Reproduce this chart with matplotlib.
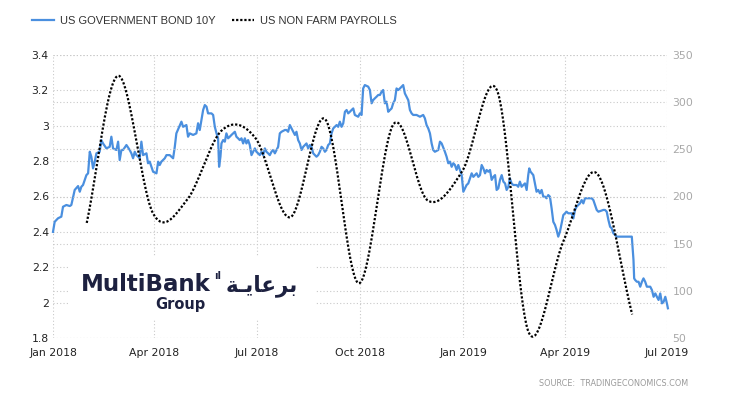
import numpy as np
import pandas as pd
import matplotlib
matplotlib.use("Agg")
import matplotlib.pyplot as plt
import matplotlib.dates as mdates
from matplotlib.lines import Line2D
from matplotlib.patches import Rectangle

# ---------------- data ----------------
# US 10Y yield: days since 2018-01-01 and yield (%)
bond_days = [0, 1.5, 4.5, 7.4, 8.9, 11.9, 14.9, 16.3, 19.3, 22.3, 23.8, 25.2, 26.7, 29.7, 31.2,
             32.7, 34.1, 35.6, 37.1, 38.6, 41.5, 43.0, 44.5, 47.5, 50.4, 51.9, 53.4, 56.4, 57.9,
             59.3, 60.8, 62.3, 65.3, 68.2, 69.7, 71.2, 72.7, 74.2, 77.1, 78.6, 80.1, 83.1, 84.5,
             86.0, 89.0, 92.0, 93.5, 94.9, 96.4, 99.4, 100.9, 103.8, 106.8, 108.3, 109.7, 114.2,
             115.7, 118.6, 120.1, 121.6, 124.6, 127.5, 129.0, 130.5, 133.5, 135.0, 136.5, 137.9,
             140.9, 142.4, 143.9, 145.4, 146.8, 147.7, 148.9, 149.8, 151.3, 152.8, 154.2, 155.7,
             157.2, 158.7, 160.2, 161.7, 163.1, 164.6, 166.1, 167.6, 169.1, 170.6, 172.0, 173.5,
             175.0, 176.5, 178.0, 179.5, 180.9, 182.4, 183.9, 185.4, 186.9, 188.4, 189.8, 191.3,
             192.8, 194.3, 195.8, 197.3, 198.8, 200.2, 201.7, 203.2, 206.2, 207.6, 209.1, 210.6,
             212.1, 213.6, 215.1, 216.5, 218.0, 219.5, 221.0, 222.5, 224.0, 225.4, 226.9, 228.4,
             229.9, 231.4, 232.9, 234.3, 235.8, 237.3, 238.8, 240.3, 241.8, 243.2, 244.7, 246.2,
             247.7, 249.2, 252.2, 253.6, 255.1, 256.6, 258.1, 259.6, 261.1, 262.5, 264.0, 265.5,
             267.0, 268.4, 271.4, 272.9, 274.4, 275.8, 277.3, 280.3, 281.8, 283.3, 284.7, 286.2,
             287.7, 289.2, 290.7, 292.2, 293.6, 295.1, 296.6, 298.1, 299.6, 301.1, 302.5, 304.0,
             305.5, 307.0, 308.5, 310.0, 311.4, 312.9, 314.4, 315.9, 317.4, 318.9, 320.3, 323.3,
             326.3, 329.2, 330.7, 332.2, 333.7, 335.2, 336.7, 338.1, 339.6, 342.6, 344.1, 345.6,
             348.5, 350.0, 351.5, 353.0, 354.5, 356.0, 357.4, 358.9, 360.4, 361.9, 363.4, 364.9,
             366.3, 367.8, 369.3, 370.8, 372.3, 373.8, 375.3, 376.7, 378.2, 379.7, 381.2, 382.7,
             384.2, 385.6, 387.1, 388.6, 390.1, 391.6, 393.1, 394.5, 396.0, 397.5, 399.0, 400.5,
             402.0, 403.4, 404.9, 406.3, 407.8, 409.3, 412.3, 413.7, 415.2, 416.7, 418.2, 419.7,
             421.2, 422.6, 423.5, 424.7, 427.1, 428.6, 430.0, 431.5, 433.0, 434.5, 436.0, 437.5,
             438.9, 440.4, 441.9, 443.4, 444.9, 446.4, 447.8, 449.3, 450.8, 452.3, 453.8, 455.3,
             456.7, 458.2, 459.7, 461.2, 462.7, 464.2, 465.6, 467.1, 468.6, 470.1, 471.6, 473.1,
             477.5, 479.0, 480.5, 482.0, 483.5, 485.0, 489.4, 490.9, 492.4, 493.9, 495.4, 496.8,
             498.3, 499.8, 501.3, 504.3, 514.7, 516.2, 516.8, 517.7, 519.2, 520.7, 522.2, 523.7,
             525.1, 526.6, 528.1, 531.1, 532.6, 534.1, 535.6, 537.0, 538.5, 540.0, 541.5, 543.0,
             544.5, 545.9, 546.8]
bond_values = [2.40, 2.457, 2.477, 2.486, 2.542, 2.552, 2.546, 2.552, 2.637, 2.659, 2.627, 2.655,
               2.665, 2.721, 2.731, 2.853, 2.825, 2.759, 2.797, 2.844, 2.853, 2.919, 2.900, 2.872,
               2.881, 2.938, 2.872, 2.863, 2.910, 2.806, 2.863, 2.863, 2.891, 2.863, 2.844, 2.816,
               2.853, 2.834, 2.816, 2.910, 2.834, 2.844, 2.788, 2.797, 2.740, 2.731, 2.797, 2.778,
               2.797, 2.816, 2.834, 2.834, 2.816, 2.881, 2.957, 3.023, 2.994, 3.004, 2.938, 2.957,
               2.948, 2.957, 3.014, 2.976, 3.089, 3.117, 3.108, 3.070, 3.070, 3.061, 2.994, 2.957,
               2.929, 2.768, 2.825, 2.900, 2.919, 2.910, 2.957, 2.929, 2.938, 2.948, 2.957, 2.966,
               2.938, 2.929, 2.919, 2.929, 2.900, 2.929, 2.900, 2.919, 2.891, 2.834, 2.853, 2.872,
               2.853, 2.844, 2.834, 2.853, 2.834, 2.872, 2.853, 2.844, 2.834, 2.853, 2.863, 2.844,
               2.863, 2.881, 2.957, 2.966, 2.976, 2.976, 2.966, 3.004, 2.985, 2.966, 2.948, 2.966,
               2.919, 2.900, 2.863, 2.881, 2.891, 2.900, 2.872, 2.891, 2.881, 2.844, 2.834, 2.825,
               2.834, 2.853, 2.881, 2.872, 2.853, 2.863, 2.891, 2.900, 2.957, 2.985, 3.004, 2.994,
               3.023, 2.994, 3.014, 3.079, 3.089, 3.070, 3.079, 3.089, 3.098, 3.061, 3.051, 3.070,
               3.061, 3.211, 3.230, 3.221, 3.202, 3.127, 3.145, 3.155, 3.164, 3.174, 3.174, 3.192,
               3.202, 3.127, 3.136, 3.079, 3.089, 3.098, 3.127, 3.145, 3.211, 3.202, 3.211, 3.221,
               3.230, 3.183, 3.164, 3.145, 3.089, 3.070, 3.061, 3.061, 3.051, 3.061, 3.042, 3.004,
               2.985, 2.957, 2.900, 2.863, 2.853, 2.863, 2.910, 2.900, 2.853, 2.825, 2.788, 2.797,
               2.768, 2.788, 2.778, 2.750, 2.778, 2.750, 2.721, 2.627, 2.646, 2.665, 2.674, 2.703,
               2.731, 2.711, 2.721, 2.731, 2.711, 2.721, 2.778, 2.759, 2.731, 2.750, 2.740, 2.750,
               2.694, 2.711, 2.721, 2.637, 2.646, 2.694, 2.721, 2.684, 2.674, 2.637, 2.655, 2.703,
               2.674, 2.665, 2.665, 2.655, 2.684, 2.655, 2.665, 2.674, 2.637, 2.721, 2.759, 2.740,
               2.721, 2.674, 2.627, 2.637, 2.618, 2.637, 2.599, 2.599, 2.590, 2.608, 2.599, 2.533,
               2.457, 2.439, 2.411, 2.373, 2.401, 2.448, 2.495, 2.505, 2.514, 2.505, 2.505, 2.505,
               2.476, 2.524, 2.542, 2.552, 2.561, 2.580, 2.561, 2.590, 2.590, 2.590, 2.580, 2.552,
               2.524, 2.514, 2.524, 2.524, 2.514, 2.467, 2.429, 2.420, 2.392, 2.383, 2.373, 2.373,
               2.373, 2.241, 2.137, 2.128, 2.118, 2.118, 2.090, 2.118, 2.137, 2.118, 2.090, 2.090,
               2.071, 2.033, 2.052, 2.033, 2.015, 2.052, 1.996, 2.005, 2.033, 1.996, 1.968]

# US non farm payrolls (thousands), monthly Jan 2018 .. May 2019
nfp_values = [172, 328, 182, 196, 270, 262, 178, 282, 108, 277, 196, 227,
              312, 56, 153, 224, 75]
nfp_months = pd.date_range("2018-01-31", periods=len(nfp_values), freq="ME")

x_tick_dates = ["2018-01-01", "2018-04-01", "2018-07-01", "2018-10-01",
                "2019-01-01", "2019-04-01", "2019-07-01"]
x_tick_labels = ["Jan 2018", "Apr 2018", "Jul 2018", "Oct 2018",
                 "Jan 2019", "Apr 2019", "Jul 2019"]
left_ticks = [1.8, 2.0, 2.2, 2.4, 2.6, 2.8, 3.0, 3.2, 3.4]
left_tick_labels = ["1.8", "2", "2.2", "2.4", "2.6", "2.8", "3", "3.2", "3.4"]
right_ticks = [50, 100, 150, 200, 250, 300, 350]

series_names = ["US GOVERNMENT BOND 10Y", "US NON FARM PAYROLLS"]

# ---------------- helpers ----------------
def catmull_rom(x, y, n=40):
    """Smooth curve through every point (rendering like a charting 'spline')."""
    x = np.asarray(x, float)
    y = np.asarray(y, float)
    k = len(x)
    def tang(v):
        m = np.empty(k)
        m[1:-1] = (v[2:] - v[:-2]) / 2.0
        m[0] = v[1] - v[0]
        m[-1] = v[-1] - v[-2]
        return m
    mx, my = tang(x), tang(y)
    t = np.linspace(0, 1, n)
    h00 = 2 * t**3 - 3 * t**2 + 1
    h10 = t**3 - 2 * t**2 + t
    h01 = -2 * t**3 + 3 * t**2
    h11 = t**3 - t**2
    xs, ys = [], []
    for i in range(k - 1):
        xs.append(h00 * x[i] + h10 * mx[i] + h01 * x[i + 1] + h11 * mx[i + 1])
        ys.append(h00 * y[i] + h10 * my[i] + h01 * y[i + 1] + h11 * my[i + 1])
    return np.concatenate(xs), np.concatenate(ys)

# ---------------- figure ----------------
W, H = 730, 400
fig = plt.figure(figsize=(W / 100, H / 100), dpi=100)
fig.patch.set_facecolor("white")
ax = fig.add_axes([53 / W, 62 / H, 614 / W, 283 / H])
ax2 = ax.twinx()

origin = pd.Timestamp("2018-01-01")
bond_dates = origin + pd.to_timedelta(np.asarray(bond_days), unit="D")
start = mdates.date2num(origin)
end = mdates.date2num(pd.Timestamp("2019-07-01"))

blue = "#4a8fdf"
ax.plot(bond_dates, bond_values, color=blue, lw=1.6, solid_joinstyle="round",
        zorder=3, clip_on=False)

nx, ny = catmull_rom(mdates.date2num(nfp_months), nfp_values)
ax2.plot(nx, ny, color="black", lw=1.6, linestyle=(0, (1.0, 0.85)),
         dash_capstyle="butt", zorder=3)

ax.set_xlim(start, end)
ax.set_ylim(1.8, 3.4)
ax2.set_ylim(50, 350)

ax.set_xticks(mdates.date2num(pd.to_datetime(x_tick_dates)))
ax.set_xticklabels(x_tick_labels)
ax.set_yticks(left_ticks)
ax.set_yticklabels(left_tick_labels)
ax2.set_yticks(right_ticks)
ax2.set_yticklabels([str(v) for v in right_ticks])

grid_kw = dict(color="#c9c9c9", lw=0.8, linestyle=(0, (1, 2)))
ax.grid(True, axis="both", **grid_kw)
ax2.grid(True, axis="y", **grid_kw)
ax.set_axisbelow(True)

for a in (ax, ax2):
    for s in a.spines.values():
        s.set_visible(False)

tick_font = "DejaVu Sans"
ax.tick_params(axis="x", length=0, pad=7, labelsize=7.8, labelcolor="#222222")
ax.tick_params(axis="y", length=0, pad=3, labelsize=7.8, labelcolor="#222222")
ax2.tick_params(axis="y", length=0, pad=4, labelsize=7.8, labelcolor="#a8a8a8")
for lab in ax.get_xticklabels() + ax.get_yticklabels() + ax2.get_yticklabels():
    lab.set_family(tick_font)

# legend
handles = [Line2D([], [], color=blue, lw=1.6),
           Line2D([], [], color="black", lw=1.6, linestyle=(0, (1.0, 0.85)),
                  dash_capstyle="butt")]
leg = ax.legend(handles, series_names, loc="upper left",
                bbox_to_anchor=(32 / W, 1 - 16 / H), bbox_transform=fig.transFigure,
                ncol=2, frameon=False, handlelength=2.0, handletextpad=0.5,
                columnspacing=1.5, borderaxespad=0, borderpad=0,
                prop={"family": "Liberation Sans", "size": 8.0})
for t in leg.get_texts():
    t.set_color("#333333")

# logo block (white backing covers grid)
fig.add_artist(Rectangle((70 / W, 1 - 320 / H), 245 / W, 63 / H,
                         transform=fig.transFigure, facecolor="white",
                         edgecolor="none", zorder=5))
navy = "#1d2140"
fig.text(81 / W, 1 - 291 / H, "MultiBank", fontsize=16.5, fontweight="bold",
         family="DejaVu Sans", color=navy, ha="left", va="baseline", zorder=6)
fig.text(214 / W, 1 - 279 / H, "\u0131l", fontsize=7, fontweight="bold",
         family="DejaVu Sans", color=navy, ha="left", va="baseline", zorder=6)
fig.text(155 / W, 1 - 309 / H, "Group", fontsize=10.5, fontweight="bold",
         family="DejaVu Sans", color=navy, ha="left", va="baseline", zorder=6)
arabic = "\uFE94\u0640\uFEF3\uFE8E\uFECB\uFEAE\uFE91"
fig.text(298 / W, 1 - 291 / H, arabic, fontsize=15.5, fontweight="bold",
         family="DejaVu Sans", color=navy, ha="right", va="baseline", zorder=6)

fig.text(688 / W, 1 - 386 / H, "SOURCE:  TRADINGECONOMICS.COM", fontsize=5.9,
         family="DejaVu Sans", color="#9a9a9a", ha="right", va="baseline")

fig.savefig("out.png", dpi=100, facecolor="white")
